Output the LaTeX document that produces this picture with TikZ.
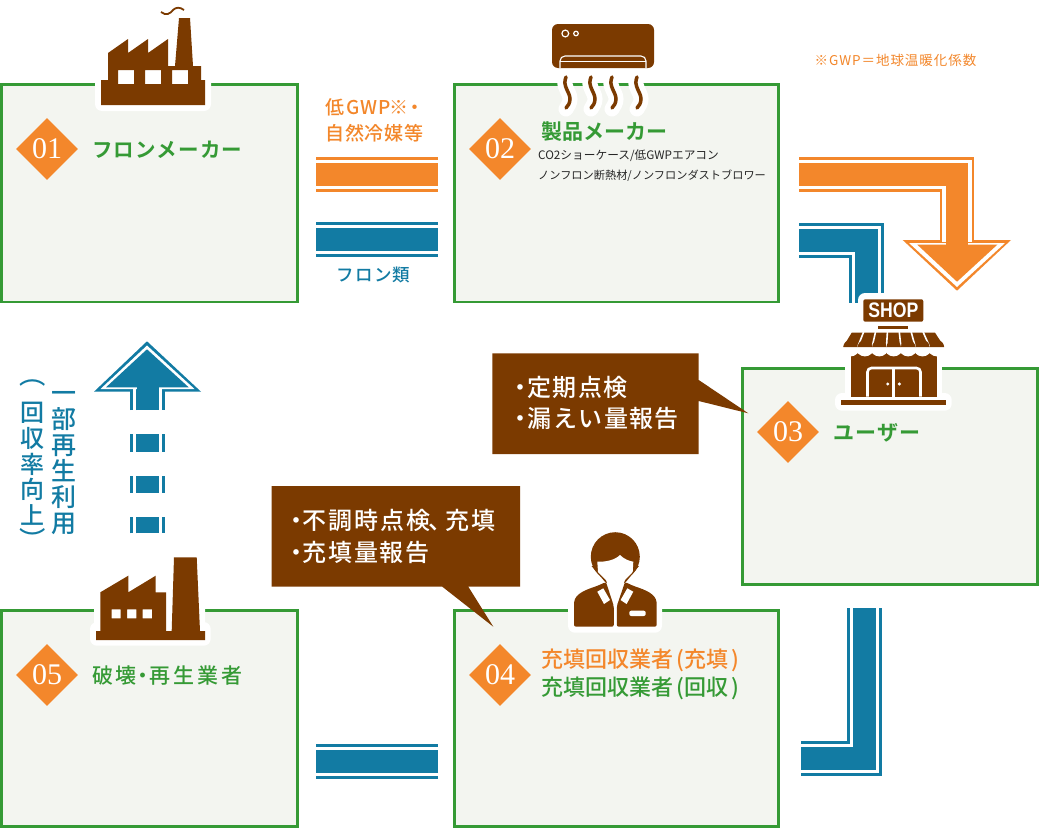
\documentclass[tikz,border=0pt]{standalone}
\usepackage{fontspec}
\usepackage{graphicx}
\usetikzlibrary{shapes.geometric}
\newfontfamily\jpm{Noto Sans CJK JP Medium}
\newfontfamily\jpr{Noto Sans CJK JP}
\newfontfamily\jpb{Noto Sans CJK JP Bold}
\newfontfamily\numf{Liberation Serif}
\newfontfamily\signf{Liberation Sans Bold}
\definecolor{grn}{HTML}{359A35}
\definecolor{org}{HTML}{F3872B}
\definecolor{blu}{HTML}{127BA3}
\definecolor{brn}{HTML}{7B3A00}
\definecolor{pale}{HTML}{F3F5F0}
\newcommand\fs[1]{\fontsize{#1}{#1}\selectfont}
\newcommand\ls[1]{\addfontfeature{LetterSpace=#1}}
\newcommand\band[2]{%
  \draw[#1,line width=34.7pt] #2;
  \draw[white,line width=29.3pt] #2;
  \draw[#1,line width=22.7pt] #2;}
\tikzset{
  panel/.style={draw=grn,fill=pale,line width=2.8pt,inner sep=0pt,outer sep=0pt},
  badge/.style={diamond,aspect=1,fill=org,text=white,inner sep=0pt,minimum width=62pt,minimum height=62pt,font=\numf\fs{30}},
  head/.style={anchor=west,inner sep=0pt,text=grn,font=\jpb\fs{21}},
  note/.style={anchor=west,inner sep=0pt,text=black!85,font=\jpr\fs{11.2}},
  lab/.style={inner sep=0pt,font=\jpm\fs{19}},
  call/.style={anchor=west,inner sep=0pt,text=white,font=\jpm\fs{24}},
  vert/.style={inner sep=0pt,text=blu,align=center},
  halo/.style={fill=white,rounded corners=7pt},
  wave/.style={line cap=round,line width=3.5pt,draw=brn},
  wavehalo/.style={line cap=round,line width=15pt,draw=white},
}
\begin{document}
\begin{tikzpicture}[x=1pt,y=-1pt,line join=miter]
\useasboundingbox (0,0) rectangle (1039,830);
\fill[white] (0,0) rectangle (1039,830);
% panels
\node[panel,minimum width=295.9pt,minimum height=217.2pt] (box1) at (149.35,193.3) {};
\node[panel,minimum width=323.9pt,minimum height=217.2pt] (box2) at (616.65,193.3) {};
\node[panel,minimum width=295.2pt,minimum height=215.9pt] (box3) at (890,476.65) {};
\node[panel,minimum width=323.9pt,minimum height=216.2pt] (box4) at (616.65,718.5) {};
\node[panel,minimum width=295.9pt,minimum height=216.2pt] (box5) at (149.35,718.5) {};
% band end points
\coordinate (a1) at (316,174.4); \coordinate (a2) at (438,174.4);
\coordinate (b1) at (316,239.5); \coordinate (b2) at (438,239.5);
\coordinate (c1) at (799,174.5); \coordinate (c2) at (957,242);
\coordinate (d1) at (799,240.7); \coordinate (d2) at (866.2,303);
\coordinate (e1) at (864.4,608.3); \coordinate (e2) at (801,758.4);
\coordinate (f1) at (438,761.5); \coordinate (f2) at (316,761.5);
\coordinate (g1) at (147.8,410); \coordinate (g2) at (147.8,388);
\band{org}{(a1) -- (a2)}
\band{blu}{(b1) -- (b2)}
\band{blu}{(d1) -| (d2)}
\band{blu}{(e1) |- (e2)}
\band{blu}{(f1) -- (f2)}
% orange arrow
\fill[org] (902.7,240) -- (1011,240) -- (957,290.7) -- cycle;
\band{org}{(c1) -| (c2)}
\fill[white] (909,243) -- (1005,243) -- (957,287) -- cycle;
\fill[org] (917.3,244.7) -- (997.3,244.7) -- (957,281.7) -- cycle;
\fill[org] (945.7,240) rectangle (968.3,246);
% blue up arrow
\fill[blu] (94,391.7) -- (201,391.7) -- (147,341.3) -- cycle;
\band{blu}{(g1) -- (g2)}
\fill[white] (100.5,389) -- (194.5,389) -- (147,345.5) -- cycle;
\fill[blu] (106,387.3) -- (188.7,387.3) -- (147,349.3) -- cycle;
\fill[blu] (136.7,386) rectangle (159,392);
% blue dashes
\coordinate (h1) at (147.8,451.7); \coordinate (h2) at (147.8,434);
\coordinate (i1) at (147.8,492.7); \coordinate (i2) at (147.8,475.7);
\coordinate (j1) at (147.8,533.3); \coordinate (j2) at (147.8,516.7);
\band{blu}{(h1) -- (h2)}
\band{blu}{(i1) -- (i2)}
\band{blu}{(j1) -- (j2)}
% factory 1
\fill[halo] (95,70) rectangle (211,111);
\fill[brn,even odd rule] (101,105) -- (205,105) -- (205,80) -- (201,80) -- (201,66) -- (193,66) -- (190,18) -- (179,18) -- (175,66) -- (168,66) -- (168,39) -- (148,53) -- (148,39) -- (128,53) -- (128,39) -- (108,53) -- (108,80) -- (101,80) -- cycle
 (118,70) rectangle (134,84) (145,70) rectangle (161,84) (172,70) rectangle (188,84);
\draw[brn,line width=1.8pt] (161,12) .. controls (166,16) and (170,14) .. (173,10) .. controls (176,7) and (180,7) .. (184,10);
% air conditioner
\foreach \dx in {0,25,46,71}{
  \draw[wavehalo,shift={(\dx,0)}] (566,78) .. controls (562,86) and (570,92) .. (570,99) .. controls (570,103) and (568,106) .. (566,109);
}
\foreach \dx in {0,25,46,71}{
  \draw[wave,shift={(\dx,0)}] (566,77) .. controls (562,86) and (570,92) .. (570,99) .. controls (570,103) and (568,106) .. (566,108);
}
\fill[brn,rounded corners=6pt] (552,24) rectangle (654,68);
\draw[white,line width=1.1pt,rounded corners=5pt] (560,68) -- (560,56) -- (646,56) -- (646,68);
\draw[white,line width=1.1pt] (560,61.5) -- (646,61.5);
\draw[white,line width=1.2pt] (565.3,33.5) circle[radius=3.4] (576,33.5) circle[radius=2.3];
% shop
\fill[halo] (858,293) rectangle (929,328);
\fill[white] (838,326) rectangle (949,362);
\fill[white] (845,340) rectangle (942.3,400);
\fill[halo] (835,393) rectangle (951.7,410.7);
\fill[brn,rounded corners=2pt] (863.3,299.3) rectangle (923.3,321.7);
\node[inner sep=0pt,text=white,font=\signf\fs{21}] (shopsign) at (893.3,310.5) {\scalebox{0.84}[1]{SHOP}};
\fill[brn] (878,325.7) rectangle (908,329.3);
\fill[brn] (851,350) rectangle (936.7,396.7);
\foreach \k in {0,...,6}{
  \fill[white] ({850.5+14.4*\k},347) circle[radius=9.4];
}
\fill[brn] (851.7,332.7) -- (935,332.7) -- (944,346.5) -- (843.3,346.5) -- cycle;
\foreach \k in {1,...,6}{
  \draw[white,line width=1.6pt] ({851.7+11.9*\k},332) -- ({843.3+14.4*\k},347);
}
\foreach \k in {0,...,6}{
  \fill[brn] ({843.3+14.4*\k},347.2) arc[start angle=180,end angle=360,x radius=7.2pt,y radius=-7.2pt] -- cycle;
}
\draw[white,line width=2.6pt,rounded corners=4pt] (867.5,396.7) -- (867.5,368) -- (920.5,368) -- (920.5,396.7);
\draw[white,line width=2.6pt] (893.7,368) -- (893.7,397);
\fill[white] (887.7,384) circle[radius=1.7] (899.3,384) circle[radius=1.7];
\fill[brn] (841,400) rectangle (945.7,405);
% factory 5
\fill[halo] (94,556) rectangle (205,630);
\fill[halo] (90,622) rectangle (210.7,645.7);
\fill[brn,even odd rule] (96,640) -- (205,640) -- (205,631) -- (200,631) -- (196.7,557.3) -- (174,557.3) -- (171.7,631) -- (166,631) -- (166,592.3) -- (155.7,592.3) -- (155.7,575.7) -- (128.3,592.3) -- (128.3,575.7) -- (100.3,592.3) -- (100.3,631) -- (96,631) -- cycle
 (111.7,609.3) rectangle (120.7,618.3) (127,609.3) rectangle (136.3,618.3) (142.7,609.3) rectangle (152,618.3);
% worker
\fill[halo] (568,590) rectangle (662,632.7);
\fill[brn] (615.3,556.7) circle[radius=24.5];
\fill[brn] (591.5,566) -- (606,583) -- (625,583) -- (639,566) -- cycle;
\fill[brn,rounded corners=2pt] (574,626.7) -- (574,604) .. controls (575,594) and (585,590) .. (597,586) -- (606,582) -- (613.8,606) -- (613.8,626.7) -- cycle;
\fill[brn,rounded corners=2pt] (656.7,626.7) -- (656.7,604) .. controls (655.7,594) and (645.7,590) .. (633.6,586) -- (625,582) -- (616.8,606) -- (616.8,626.7) -- cycle;
\fill[white] (597.3,561.7) .. controls (606,562) and (615,560) .. (620,555) .. controls (624,559) and (629,561) .. (633.3,561.7) -- (632.7,572) -- (625,580) -- (615.3,606) -- (606,580) -- (598,572) -- cycle;
\fill[white] (597.3,591.7) -- (603.3,588.3) -- (610,600) -- (604,604) -- cycle;
\fill[white] (633.3,591.7) -- (627.3,588.3) -- (620.6,600) -- (626.6,604) -- cycle;
\fill[white,rounded corners=2pt] (629.3,610.7) rectangle (645.7,616);
% callouts
\fill[brn] (492.3,353.3) -- (698.7,353.3) -- (698.7,380) -- (748.3,413.3) -- (698.7,401) -- (698.7,454) -- (492.3,454) -- cycle;
\fill[brn] (271.7,486) -- (520,486) -- (520,586.7) -- (468.3,586.7) -- (493.3,626.7) -- (442.3,586.7) -- (271.7,586.7) -- cycle;
\node[call] (t1) at (508.5,387) {\ls{5}・\kern-5pt 定期点検};
\node[call] (t2) at (508.5,418) {\ls{6}・\kern-5pt 漏えい量報告};
\node[call] (t3) at (284,520) {\ls{8}・\kern-5.5pt 不調時点検\kern-2pt 、\kern-7pt 充填};
\node[call] (t4) at (284,552) {\ls{7}・\kern-5.5pt 充填量報告};
% badges
\node[badge] (n1) at (47,149) {\raisebox{-2pt}{01}};
\node[badge] (n2) at (500,149) {\raisebox{-2pt}{02}};
\node[badge] (n3) at (788,432) {\raisebox{-2pt}{03}};
\node[badge] (n4) at (500,675) {\raisebox{-2pt}{04}};
\node[badge] (n5) at (47,675) {\raisebox{-2pt}{05}};
% headings
\node[head,font=\jpb\fs{20.5}] (h1t) at (92,150) {\ls{6}フロンメーカー};
\node[head] (h2t) at (541,131.5) {製品メーカー};
\node[note,font=\jpr\fs{11.7}] (h2a) at (538,155.5) {CO2ショーケース/低GWPエアコン};
\node[note] (h2b) at (538,175.5) {ノンフロン断熱材/ノンフロンダストブロワー};
\node[head] (h3t) at (833,433) {\ls{6}ユーザー};
\node[head,font=\jpm\fs{22}] (h4a) at (541,660.5) {\textcolor{org}{充填回収業者\kern3pt(充填\kern3pt)}};
\node[head,font=\jpm\fs{22}] (h4b) at (541,688.5) {充填回収業者\kern3pt(回収\kern3pt)};
\node[head,font=\jpm\fs{21}] (h5t) at (92,675.5) {\ls{13}破壊\kern-4pt ・\kern-4pt 再生業者};
% band labels
\node[lab,text=org] (l1) at (375,107) {\ls{7}低GWP\kern-2pt ※\kern-3pt ・};
\node[lab,text=org] (l2) at (374.5,133) {\ls{3}自然冷媒等};
\node[lab,text=blu,font=\jpm\fs{17.5}] (l3) at (373.5,274.5) {\ls{6}フロン類};
\node[inner sep=0pt,text=org,font=\jpr\fs{13.5}] (l4) at (895.5,60.5) {\ls{7}※GWP＝地球温暖化係数};
% vertical labels
\node[vert,font=\jpm\fontsize{25}{26}\selectfont] (v1) at (63.7,463.5) {一\\部\\再\\生\\利\\用};
\node[vert,font=\jpm\fontsize{24}{25.7}\selectfont] (v2) at (32.7,473) {\smash{\raisebox{11pt}{\scalebox{1.1}[1]{︵}}}\\回\\収\\率\\向\\上\\\smash{\raisebox{2pt}{\scalebox{1.1}[1]{︶}}}};
\end{tikzpicture}
\end{document}
